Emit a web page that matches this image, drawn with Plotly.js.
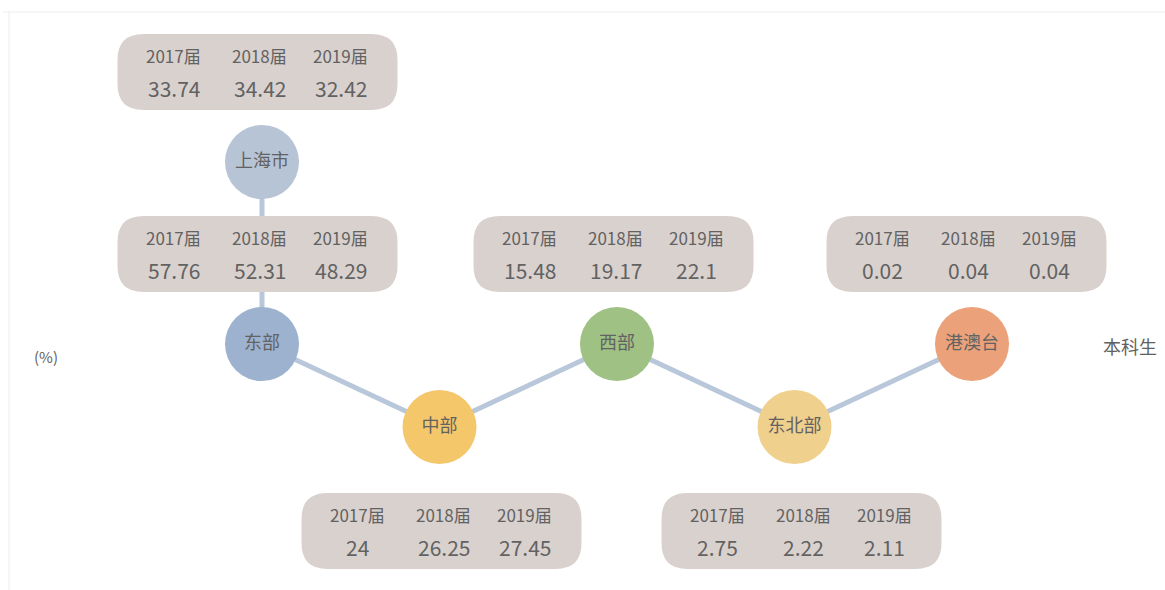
<!DOCTYPE html>
<html>
<head>
<meta charset="utf-8">
<script src="https://cdn.plot.ly/plotly-3.0.1.min.js"></script>
<style>html,body{margin:0;padding:0;background:#fff;}#chart{width:1165px;height:590px;}</style>
</head>
<body>
<div id="chart"></div>
<script>
// ---- data ----
const regions = ['上海市', '东部', '中部', '西部', '东北部', '港澳台'];
const yearLabels = ['2017届', '2018届', '2019届'];
const values2017 = [33.74, 57.76, 24, 15.48, 2.75, 0.02];
const values2018 = [34.42, 52.31, 26.25, 19.17, 2.22, 0.04];
const values2019 = [32.42, 48.29, 27.45, 22.1, 2.11, 0.04];
const seriesName = '本科生';
const unitLabel = '(%)';

// ---- layout config (positions / styles) ----
const W = 1165, H = 590;
const nodeCol = [0, 0, 1, 2, 3, 4];              // column slot of each region
const nodeRow = ['sh', 'top', 'bottom', 'top', 'bottom', 'top'];
const rowY = {sh: 162, top: 344, bottom: 427};    // vertical pixel level of rows
const colStart = 262, colStep = 177.5;           // pixel position of column 0 and spacing
const boxDx = [-4.5, -4.5, 2, -3.5, 7, -5.5];    // horizontal pixel nudge of each value box
const nodeColors = ['#b7c4d6', '#9cb2cf', '#f4c76b', '#9fc184', '#f0d08d', '#eba27b'];
const boxFill = '#d9d1ce';
const lineColor = '#b9c7da';
const textColor = '#626262';
const FONT = '"Noto Sans CJK SC", "Noto Sans", sans-serif';
const boxW = 280, boxH = 76, boxR = 26;
const boxOffsetAbove = -90, boxOffsetBelow = 104;
const colOffsets = [-84, 2, 83];

const nodeY = nodeRow.map(r => rowY[r]);
const boxY = nodeRow.map((r, i) => nodeY[i] + (r === 'bottom' ? boxOffsetBelow : boxOffsetAbove));

// connection lines
const chainIdx = [1, 2, 3, 4, 5];
const traces = [
  {x: [nodeCol[0], nodeCol[1]], y: [nodeY[0], nodeY[1]], mode: 'lines',
   line: {color: lineColor, width: 5}, hoverinfo: 'skip', showlegend: false},
  {x: chainIdx.map(i => nodeCol[i]), y: chainIdx.map(i => nodeY[i]), mode: 'lines',
   line: {color: lineColor, width: 5}, hoverinfo: 'skip', showlegend: false},
  {x: nodeCol, y: nodeY, mode: 'markers+text', text: regions, textposition: 'middle center',
   textfont: {family: FONT, size: 18, color: textColor},
   marker: {size: 74, color: nodeColors, line: {width: 0}, opacity: 1},
   name: seriesName, hoverinfo: 'text', showlegend: false}
];

function roundRect(w, h, r) {
  const x0 = -w / 2, x1 = w / 2, y0 = -h / 2, y1 = h / 2;
  return `M ${x0 + r},${y0} L ${x1 - r},${y0} Q ${x1},${y0} ${x1},${y0 + r} L ${x1},${y1 - r} Q ${x1},${y1} ${x1 - r},${y1} L ${x0 + r},${y1} Q ${x0},${y1} ${x0},${y1 - r} L ${x0},${y0 + r} Q ${x0},${y0} ${x0 + r},${y0} Z`;
}

const shapes = [
  {type: 'line', xref: 'paper', yref: 'paper', x0: 3 / W, x1: 1, y0: 1 - 12 / H, y1: 1 - 12 / H, line: {color: '#ededed', width: 1}},
  {type: 'line', xref: 'paper', yref: 'paper', x0: 9 / W, x1: 9 / W, y0: 0, y1: 1 - 12 / H, line: {color: '#ededed', width: 1}}
];
const annotations = [];
const valueSets = [values2017, values2018, values2019];

regions.forEach((reg, i) => {
  shapes.push({
    type: 'path', xref: 'x', yref: 'y', xsizemode: 'pixel', ysizemode: 'pixel',
    xanchor: nodeCol[i], yanchor: boxY[i], path: roundRect(boxW, boxH, boxR).replace(/(-?[\d.]+),/g, (m, a) => (parseFloat(a) + boxDx[i]) + ','),
    fillcolor: boxFill, line: {width: 0}, layer: 'above'
  });
  yearLabels.forEach((yl, k) => {
    annotations.push({x: nodeCol[i], y: boxY[i], xref: 'x', yref: 'y', text: yl, showarrow: false,
      xshift: colOffsets[k] + boxDx[i], yshift: 17, font: {family: FONT, size: 17, color: textColor}});
    annotations.push({x: nodeCol[i], y: boxY[i], xref: 'x', yref: 'y', text: String(valueSets[k][i]), showarrow: false,
      xshift: colOffsets[k] + boxDx[i], yshift: -16, font: {family: FONT, size: 21, color: textColor}});
  });
});

annotations.push({xref: 'paper', yref: 'paper', x: 1130 / W, y: 1 - 346 / H, xanchor: 'center', yanchor: 'middle',
  text: seriesName, showarrow: false, font: {family: FONT, size: 18, color: textColor}});
annotations.push({xref: 'paper', yref: 'paper', x: 46 / W, y: 1 - 356 / H, xanchor: 'center', yanchor: 'middle',
  text: unitLabel, showarrow: false, font: {family: FONT, size: 15, color: textColor}});

const layout = {
  width: W, height: H, margin: {l: 0, r: 0, t: 0, b: 0},
  paper_bgcolor: '#ffffff', plot_bgcolor: '#ffffff',
  xaxis: {range: [-colStart / colStep, (W - colStart) / colStep], visible: false, fixedrange: true},
  yaxis: {range: [H, 0], visible: false, fixedrange: true},
  shapes: shapes, annotations: annotations, showlegend: false
};

Plotly.newPlot('chart', traces, layout, {displayModeBar: false, staticPlot: true});
</script>
</body>
</html>
